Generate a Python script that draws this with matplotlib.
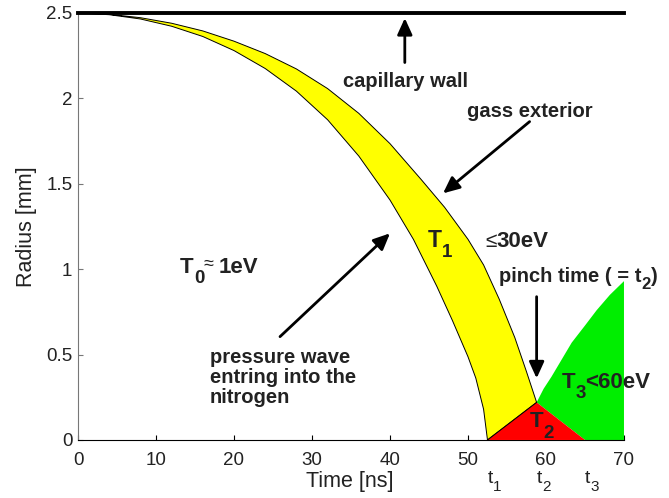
import matplotlib
matplotlib.use("Agg")
import matplotlib.pyplot as plt

plt.rcParams["font.family"] = ["Liberation Sans", "DejaVu Sans"]

# outer edge of the shocked shell (gas exterior side)
t_outer = [0, 4, 8, 12, 16, 20, 24, 28, 32, 36, 40, 44, 47, 50, 52, 54, 56, 57.5, 58.8]
r_outer = [2.5, 2.4925, 2.4725, 2.44, 2.395, 2.335, 2.2625, 2.1725, 2.0575, 1.9125,
           1.735, 1.525, 1.3625, 1.175, 1.025, 0.825, 0.6, 0.4, 0.22]

# inner edge (pressure wave entering the nitrogen)
t_inner = [0, 4, 8, 12, 16, 20, 24, 28, 32, 36, 40, 43, 46, 48, 50, 51, 52, 52.5]
r_inner = [2.5, 2.49, 2.465, 2.4225, 2.3625, 2.28, 2.175, 2.0425, 1.875, 1.6625,
           1.405, 1.175, 0.9, 0.7, 0.4875, 0.3625, 0.18, 0.0]

# pinch triangle (t1, t2, t3)
t_pinch = [52.5, 58.8, 65.0]
r_pinch = [0.0, 0.22, 0.0]

# expanding hot region after the pinch
t_exp = [58.8, 59.7, 60.7, 62.0, 63.3, 65.0, 66.5, 68.2, 70.0]
r_exp = [0.22, 0.30, 0.37, 0.47, 0.57, 0.67, 0.76, 0.85, 0.93]

wall_r = 2.5
t_end = 70

tc = "#222222"

fig = plt.figure(figsize=(6.69, 4.98), dpi=100)
ax = fig.add_axes([0.1166, 0.1165, 0.8161, 0.8574])
renderer = fig.canvas.get_renderer()

# yellow shell
ax.fill(t_outer + t_inner[::-1], r_outer + r_inner[::-1],
        facecolor="#ffff00", edgecolor="k", lw=0.7, zorder=2)

# green region
ax.fill(t_exp + [t_end, t_pinch[2]], r_exp + [0, 0],
        facecolor="#00ee00", edgecolor="none", zorder=2)

# red triangle
ax.fill(t_pinch, r_pinch, facecolor="#ff0000", edgecolor="none", zorder=3)
ax.plot(t_pinch[:2], r_pinch[:2], color="k", lw=0.7, zorder=4)

# capillary wall
ax.plot([0, t_end], [wall_r, wall_r], color="k", lw=2.8, clip_on=False, zorder=5)

ax.set_xlim(0, 70)
ax.set_ylim(0, 2.5)
ax.set_xticks(range(0, 71, 10))
ax.set_yticks([0, 0.5, 1, 1.5, 2, 2.5])
ax.set_yticklabels(["0", "0.5", "1", "1.5", "2", "2.5"])
ax.tick_params(direction="in", length=3.6, labelsize=13.5, labelcolor=tc)
ax.tick_params(axis="x", pad=9)
ax.tick_params(axis="y", pad=4, color="#777777")
ax.spines["top"].set_visible(False)
ax.spines["right"].set_visible(False)
ax.spines["left"].set_color("#777777")
ax.spines["bottom"].set_color("k")
ax.set_xlabel("Time [ns]", fontsize=15.5, color=tc)
ax.xaxis.set_label_coords(0.498, -0.0726)
ax.set_ylabel("Radius [mm]", fontsize=15.5, color=tc)
ax.yaxis.set_label_coords(-0.0756, 0.5)


def chain(x, y, parts):
    # draw text pieces one after another from (x, y); parts: (text, size, weight, drop)
    off = 0
    for s, size, weight, dy in parts:
        t = ax.annotate(s, (x, y), xytext=(off, dy), textcoords="offset points",
                        fontsize=size, fontweight=weight, ha="left", va="baseline",
                        color=tc, zorder=6, annotation_clip=False)
        off += t.get_window_extent(renderer).width * 72 / fig.dpi


arrow = dict(arrowstyle="-|>,head_length=0.55,head_width=0.25", color="k", lw=2.0,
             mutation_scale=18, shrinkA=0, shrinkB=0)

ax.annotate("", xy=(41.9, 2.47), xytext=(41.9, 2.21), arrowprops=arrow)
ax.text(34.0, 2.067, "capillary wall", fontsize=14.5, fontweight="bold", color=tc,
        ha="left", va="baseline")

ax.annotate("", xy=(46.8, 1.444), xytext=(57.9, 1.864), arrowprops=arrow)
ax.text(49.9, 1.893, "gass exterior", fontsize=14.5, fontweight="bold", color=tc,
        ha="left", va="baseline")

chain(44.9, 1.13, [("T", 16.5, "bold", 0), ("1", 13.5, "bold", -7.4)])
chain(52.2, 1.13, [("≤", 15, "normal", 0), ("30eV", 16, "bold", 0)])

chain(54.0, 0.927, [("pinch time ( = t", 14.5, "bold", 0), ("2", 12, "bold", -5),
                    (")", 14.5, "bold", 0)])
ax.annotate("", xy=(58.8, 0.361), xytext=(58.8, 0.839), arrowprops=arrow)

chain(62.0, 0.303, [("T", 16, "bold", 0), ("3", 13.5, "bold", -7), ("<60eV", 16, "bold", 0)])
chain(57.9, 0.076, [("T", 16, "bold", 0), ("2", 13.5, "bold", -8)])

chain(13.1, 0.976, [("T", 16, "bold", 0), ("0", 13.5, "bold", -7),
                    ("≈ ", 13, "normal", 3), ("1eV", 16, "bold", 0)])

ax.annotate("", xy=(40.0, 1.21), xytext=(25.9, 0.605), arrowprops=arrow)
for line, rb in zip(["pressure wave", "entring into the", "nitrogen"], [0.449, 0.332, 0.215]):
    ax.text(16.9, rb, line, fontsize=14.5, fontweight="bold", color=tc,
            ha="left", va="baseline")

for tx, k in zip(t_pinch, ["1", "2", "3"]):
    chain(tx, -0.25, [("t", 14, "normal", 0), (k, 11, "normal", -6)])

fig.savefig("out.png", dpi=100)
